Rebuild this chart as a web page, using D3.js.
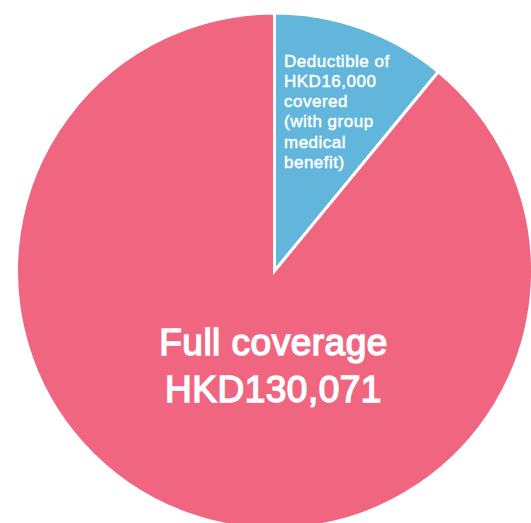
<!DOCTYPE html>
<html>
<head>
<meta charset="utf-8">
<script src="https://cdn.jsdelivr.net/npm/d3@7"></script>
<style>
  html, body { margin: 0; padding: 0; background: #ffffff; }
  svg { display: block; }
</style>
</head>
<body>
<svg id="chart" width="531" height="523"></svg>
<script>
// Medical cost split: deductible portion vs. full coverage
const categories = ["Deductible covered", "Full coverage"];
const values = [16000, 130071];
const labels = [
  ["Deductible of", "HKD16,000", "covered", "(with group", "medical", "benefit)"],
  ["Full coverage", "HKD130,071"]
];
const colors = ["#63B6DB", "#F06680"];

const width = 531, height = 523;
const cx = 274.5, cy = 271, radius = 258;

const svg = d3.select("#chart");
const g = svg.append("g").attr("transform", `translate(${cx},${cy})`);

const pie = d3.pie().sort(null).value(d => d)(values);
const arc = d3.arc().innerRadius(0).outerRadius(radius);

g.selectAll("path.slice")
  .data(pie)
  .join("path")
  .attr("class", "slice")
  .attr("d", arc)
  .attr("fill", (d, i) => colors[i])
  .attr("stroke", "#ffffff")
  .attr("stroke-width", 3)
  .attr("stroke-linejoin", "miter");

// Small label inside the deductible slice (thin stroke gives a medium weight)
const small = g.append("text")
  .attr("fill", "#ffffff")
  .attr("stroke", "#ffffff")
  .attr("stroke-width", 0.45)
  .attr("font-family", "'Liberation Sans', Arial, Helvetica, sans-serif")
  .attr("font-size", 17)
  .attr("letter-spacing", 0.5);
small.selectAll("tspan")
  .data(labels[0])
  .join("tspan")
  .attr("x", 9.5)
  .attr("y", (d, i) => -204.3 + i * 20.2)
  .text(d => d);

// Large label in the full coverage slice
const big = g.append("text")
  .attr("fill", "#ffffff")
  .attr("stroke", "#ffffff")
  .attr("stroke-width", 1.5)
  .attr("text-anchor", "middle")
  .attr("font-family", "'Liberation Sans', Arial, Helvetica, sans-serif")
  .attr("font-size", 37)
  .attr("letter-spacing", 0.5);
big.selectAll("tspan")
  .data(labels[1])
  .join("tspan")
  .attr("x", -1)
  .attr("y", (d, i) => 84 + i * 46.5)
  .text(d => d);
</script>
</body>
</html>
